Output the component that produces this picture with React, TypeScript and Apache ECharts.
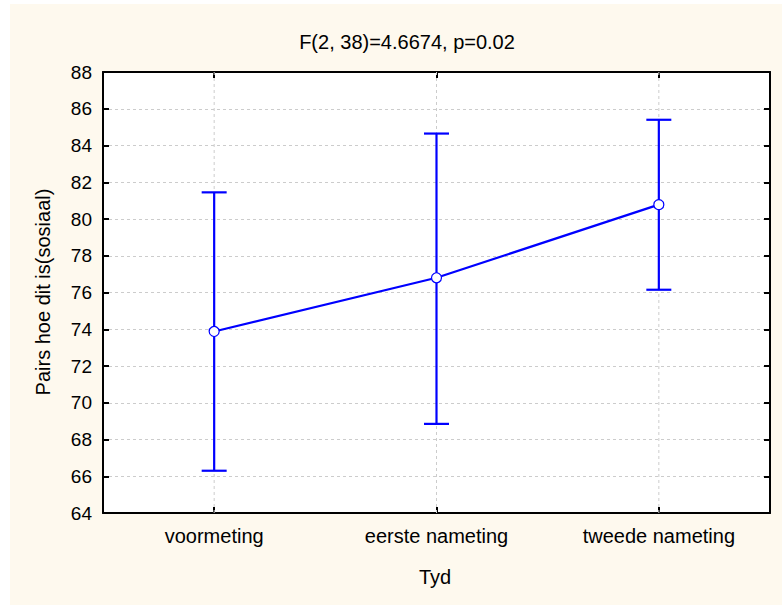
import React, { useEffect, useRef } from "react";
import * as echarts from "echarts";

const categories = ["voormeting", "eerste nameting", "tweede nameting"];
const means = [73.88, 76.8, 80.78];
const lowerBounds = [66.3, 68.85, 76.15];
const upperBounds = [81.45, 84.65, 85.4];
const titleText = "F(2, 38)=4.6674, p=0.02";
const yAxisName = "Pairs hoe dit is(sosiaal)";
const xAxisName = "Tyd";

const BLUE = "#0000FF";
const CREAM = "#FEF9EE";
const FONT = "Arial, 'Liberation Sans', sans-serif";

export default function App() {
  const ref = useRef<HTMLDivElement>(null);
  useEffect(() => {
    if (!ref.current) return;
    const chart = echarts.init(ref.current, null, { renderer: "svg" });
    const errData = categories.map((_, i) => [i, lowerBounds[i], upperBounds[i]]);
    const gridLine = { show: true, lineStyle: { color: "#CCCCCC", type: [3, 3], width: 1 } };
    chart.setOption({
      animation: false,
      backgroundColor: "#FFFFFF",
      title: {
        text: titleText,
        left: 402,
        textAlign: "center",
        top: 27,
        textStyle: { fontFamily: FONT, fontSize: 20, fontWeight: "normal", color: "#000" },
      },
      graphic: [
        { type: "rect", z: -10, silent: true, shape: { x: 10, y: 4, width: 772, height: 601 }, style: { fill: CREAM } },
        {
          type: "text", x: 43, y: 292, rotation: Math.PI / 2,
          style: { text: yAxisName, fontFamily: FONT, fontSize: 20, fill: "#000", align: "center", verticalAlign: "middle" },
        },
        {
          type: "text", x: 435, y: 577,
          style: { text: xAxisName, fontFamily: FONT, fontSize: 20, fill: "#000", align: "center", verticalAlign: "middle" },
        },
      ],
      grid: { left: 103, top: 72, right: 12, bottom: 92, show: true, backgroundColor: "#FFFFFF", borderWidth: 0 },
      xAxis: [
        {
          type: "category", data: categories, position: "bottom", boundaryGap: true,
          axisLine: { lineStyle: { color: "#000", width: 2 } },
          axisTick: { show: true, inside: true, alignWithLabel: true, length: 6, lineStyle: { color: "#000", width: 2 } },
          axisLabel: { fontFamily: FONT, fontSize: 20, color: "#000", margin: 13 },
          splitLine: { show: false },
        },
        {
          type: "category", data: categories, position: "top", boundaryGap: true,
          axisLine: { lineStyle: { color: "#000", width: 2 } },
          axisTick: { show: true, inside: true, alignWithLabel: true, length: 6, lineStyle: { color: "#000", width: 2 } },
          axisLabel: { show: false },
          splitLine: { show: false },
        },
      ],
      yAxis: [
        {
          type: "value", min: 64, max: 88, interval: 2, position: "left",
          axisLine: { show: true, lineStyle: { color: "#000", width: 2 } },
          axisTick: { show: true, inside: true, length: 6, lineStyle: { color: "#000", width: 2 } },
          axisLabel: { fontFamily: FONT, fontSize: 19, color: "#000", margin: 11 },
          splitLine: gridLine,
        },
        {
          type: "value", min: 64, max: 88, interval: 2, position: "right",
          axisLine: { show: true, lineStyle: { color: "#000", width: 2 } },
          axisTick: { show: true, inside: true, length: 6, lineStyle: { color: "#000", width: 2 } },
          axisLabel: { show: false },
          splitLine: { show: false },
        },
      ],
      series: [
        {
          type: "custom",
          xAxisIndex: 0, yAxisIndex: 0, z: 1, silent: true,
          data: categories.map((_, i) => [i, 64, 88]),
          renderItem: (params: any, api: any) => {
            const top = api.coord([api.value(0), 88]);
            const bot = api.coord([api.value(0), 64]);
            return {
              type: "line",
              shape: { x1: top[0], y1: top[1], x2: bot[0], y2: bot[1] },
              style: { stroke: "#CCCCCC", lineWidth: 1, lineDash: [3, 3] },
            };
          },
        },
        {
          type: "custom",
          xAxisIndex: 0, yAxisIndex: 0, z: 3,
          data: errData,
          renderItem: (params: any, api: any) => {
            const x = api.value(0);
            const lo = api.coord([x, api.value(1)]);
            const hi = api.coord([x, api.value(2)]);
            const hw = 12.5;
            const style = { stroke: BLUE, lineWidth: 2.2 };
            return {
              type: "group",
              children: [
                { type: "line", shape: { x1: hi[0], y1: hi[1], x2: lo[0], y2: lo[1] }, style },
                { type: "line", shape: { x1: hi[0] - hw, y1: hi[1], x2: hi[0] + hw, y2: hi[1] }, style },
                { type: "line", shape: { x1: lo[0] - hw, y1: lo[1], x2: lo[0] + hw, y2: lo[1] }, style },
              ],
            };
          },
        },
        {
          type: "line",
          xAxisIndex: 0, yAxisIndex: 0, z: 5,
          data: means,
          symbol: "circle",
          symbolSize: 10,
          lineStyle: { color: BLUE, width: 2.2 },
          itemStyle: { color: "#FFFFFF", borderColor: BLUE, borderWidth: 1.2 },
        },
      ],
    });
    return () => chart.dispose();
  }, []);
  return <div ref={ref} style={{ position: "fixed", left: 0, top: 0, width: 782, height: 605 }} />;
}
